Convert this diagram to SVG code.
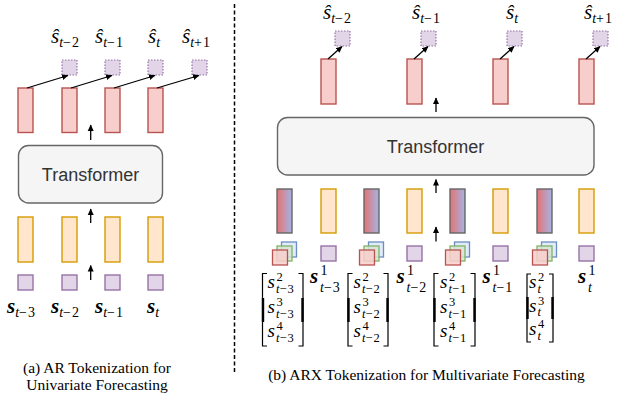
<svg xmlns="http://www.w3.org/2000/svg" width="624" height="398" viewBox="0 0 624 398">
<defs>
<marker id="ah" markerUnits="userSpaceOnUse" markerWidth="8" markerHeight="8" refX="6" refY="4" orient="auto">
<path d="M0,1 L6.5,4 L0,7 Z" fill="#000"/>
</marker>
<linearGradient id="grad" x1="0" y1="0" x2="1" y2="0">
<stop offset="0" stop-color="#e57373"/>
<stop offset="1" stop-color="#a4b4e4"/>
</linearGradient>
<style>
.pink{fill:#f8cecc;stroke:#b85450;stroke-width:1.4}
.org{fill:#ffe6cc;stroke:#d79b00;stroke-width:1.4}
.pur{fill:#e1d5e7;stroke:#9673a6;stroke-width:1.4}
.dot{fill:#e1d5e7;stroke:#9673a6;stroke-width:1.2;stroke-dasharray:1.5 1.5}
.gr{fill:url(#grad);stroke:#666666;stroke-width:1.4}
.sr{fill:#f8cecc;stroke:#b85450;stroke-width:1.3;fill-opacity:0.85}
.sg{fill:#d5e8d4;stroke:#82b366;stroke-width:1.3;fill-opacity:0.85}
.sbl{fill:#dae8fc;stroke:#6c8ebf;stroke-width:1.3;fill-opacity:0.85}
.tf{fill:#f5f5f5;stroke:#666666;stroke-width:1.4}
.tft{font-family:"Liberation Sans",Arial,sans-serif;font-size:18px;fill:#333333;text-anchor:middle}
.arr{stroke:#000;stroke-width:1.3;fill:none;marker-end:url(#ah)}
.m{font-family:"Liberation Serif","Times New Roman",serif;font-style:italic;font-size:21px;fill:#000}
.mb{font-family:"Liberation Serif","Times New Roman",serif;font-style:italic;font-weight:bold;font-size:21px;fill:#000}
.me{font-family:"Liberation Serif","Times New Roman",serif;font-style:italic;font-size:19px;fill:#000}
.sub{font-size:14px;font-weight:normal}
.sube{font-size:12.5px;font-weight:normal}
.up{font-style:normal;letter-spacing:1px}
.cap{font-family:"Liberation Serif","Times New Roman",serif;font-size:15.5px;fill:#000;text-anchor:middle}
.brk{stroke:#000;stroke-width:1.2;fill:none}
.brkm{stroke:#000;stroke-width:2.4;fill:none}
</style>
</defs>

<!-- divider -->
<line x1="234.5" y1="4" x2="234.5" y2="372" stroke="#000" stroke-width="1.5" stroke-dasharray="4 2.5"/>

<!-- ===== Left panel (a) ===== -->
<g id="a-outputs">
<rect class="dot" x="62" y="60" width="15" height="15"/>
<rect class="dot" x="105" y="60" width="15" height="15"/>
<rect class="dot" x="148" y="60" width="15" height="15"/>
<rect class="dot" x="192" y="60" width="15" height="15"/>
<text class="m" x="51" y="43">ŝ<tspan class="sub" dy="4">t<tspan class="up">−2</tspan></tspan></text>
<text class="m" x="95" y="43">ŝ<tspan class="sub" dy="4">t<tspan class="up">−1</tspan></tspan></text>
<text class="m" x="148" y="43">ŝ<tspan class="sub" dy="4">t</tspan></text>
<text class="m" x="182" y="43">ŝ<tspan class="sub" dy="4">t<tspan class="up">+1</tspan></tspan></text>
</g>
<g id="a-hidden">
<rect class="pink" x="18" y="88" width="15" height="44.5"/>
<rect class="pink" x="62" y="88" width="15" height="44.5"/>
<rect class="pink" x="105" y="88" width="15" height="44.5"/>
<rect class="pink" x="148" y="88" width="15" height="44.5"/>
</g>
<g id="a-transformer">
<rect class="tf" x="18.5" y="145.5" width="144" height="57.5" rx="10"/>
<text class="tft" x="90.5" y="180.5">Transformer</text>
</g>
<g id="a-tokens">
<rect class="org" x="18" y="217" width="15" height="45"/>
<rect class="org" x="62" y="217" width="15" height="45"/>
<rect class="org" x="105" y="217" width="15" height="45"/>
<rect class="org" x="148" y="217" width="15" height="45"/>
</g>
<g id="a-inputs">
<rect class="pur" x="18" y="275" width="15" height="15"/>
<rect class="pur" x="62" y="275" width="15" height="15"/>
<rect class="pur" x="105" y="275" width="15" height="15"/>
<rect class="pur" x="148" y="275" width="15" height="15"/>
<text class="mb" x="7" y="313">s<tspan class="sub" dy="4">t<tspan class="up">−3</tspan></tspan></text>
<text class="mb" x="51" y="313">s<tspan class="sub" dy="4">t<tspan class="up">−2</tspan></tspan></text>
<text class="mb" x="95" y="313">s<tspan class="sub" dy="4">t<tspan class="up">−1</tspan></tspan></text>
<text class="mb" x="147" y="313">s<tspan class="sub" dy="4">t</tspan></text>
</g>
<g id="a-connectors">
<line class="arr" x1="27" y1="88" x2="68" y2="75.5"/>
<line class="arr" x1="71" y1="88" x2="112" y2="75.5"/>
<line class="arr" x1="114" y1="88" x2="155" y2="75.5"/>
<line class="arr" x1="157" y1="88" x2="199" y2="75.5"/>
<line class="arr" x1="90.7" y1="140" x2="90.7" y2="125"/>
<line class="arr" x1="90.7" y1="223" x2="90.7" y2="209"/>
<line class="arr" x1="90.7" y1="280" x2="90.7" y2="265.5"/>
</g>
<g id="a-caption">
<text class="cap" x="97" y="373">(a) AR Tokenization for</text>
<text class="cap" x="97" y="390">Univariate Forecasting</text>
</g>

<!-- ===== Right panel (b) ===== -->
<g id="b-outputs">
<rect class="dot" x="335" y="31" width="15" height="15"/>
<rect class="dot" x="421" y="31" width="15" height="15"/>
<rect class="dot" x="507" y="31" width="15" height="15"/>
<rect class="dot" x="593" y="31" width="15" height="15"/>
<text class="m" x="323" y="19">ŝ<tspan class="sub" dy="4">t<tspan class="up">−2</tspan></tspan></text>
<text class="m" x="412" y="19">ŝ<tspan class="sub" dy="4">t<tspan class="up">−1</tspan></tspan></text>
<text class="m" x="506" y="19">ŝ<tspan class="sub" dy="4">t</tspan></text>
<text class="m" x="584" y="19">ŝ<tspan class="sub" dy="4">t<tspan class="up">+1</tspan></tspan></text>
</g>
<g id="b-hidden">
<rect class="pink" x="321" y="59" width="15" height="45"/>
<rect class="pink" x="407" y="59" width="15" height="45"/>
<rect class="pink" x="493" y="59" width="15" height="45"/>
<rect class="pink" x="579" y="59" width="15" height="45"/>
</g>
<g id="b-transformer">
<rect class="tf" x="277.5" y="117.5" width="316.5" height="57.5" rx="10"/>
<text class="tft" x="435.5" y="152.5">Transformer</text>
</g>
<g id="b-tokens">
<rect class="gr" x="277" y="189" width="15" height="44"/>
<rect class="org" x="321" y="189" width="15" height="44"/>
<rect class="gr" x="364" y="189" width="15" height="44"/>
<rect class="org" x="407" y="189" width="15" height="44"/>
<rect class="gr" x="450" y="189" width="15" height="44"/>
<rect class="org" x="493" y="189" width="15" height="44"/>
<rect class="gr" x="537" y="189" width="15" height="44"/>
<rect class="org" x="579" y="189" width="15" height="44"/>
</g>
<g id="b-inputs">
<rect class="sbl" x="281.5" y="242" width="15" height="15"/>
<rect class="sg" x="277" y="246" width="15" height="15"/>
<rect class="sr" x="272.5" y="250" width="15" height="15"/>
<rect class="pur" x="321" y="246" width="15" height="15"/>
<rect class="sbl" x="368.5" y="242" width="15" height="15"/>
<rect class="sg" x="364" y="246" width="15" height="15"/>
<rect class="sr" x="359.5" y="250" width="15" height="15"/>
<rect class="pur" x="407" y="246" width="15" height="15"/>
<rect class="sbl" x="454.5" y="242" width="15" height="15"/>
<rect class="sg" x="450" y="246" width="15" height="15"/>
<rect class="sr" x="445.5" y="250" width="15" height="15"/>
<rect class="pur" x="493" y="246" width="15" height="15"/>
<rect class="sbl" x="541.5" y="242" width="15" height="15"/>
<rect class="sg" x="537" y="246" width="15" height="15"/>
<rect class="sr" x="532.5" y="250" width="15" height="15"/>
<rect class="pur" x="579" y="246" width="15" height="15"/>
</g>
<g id="b-matrices">
<!-- M1 -->
<path class="brk" d="M267,273.5 H262.5 V346 H267 M298.5,273.5 H303 V346 H298.5"/>
<path class="brkm" d="M263,298 V322 M302.5,298 V322"/>
<text class="me" x="267.5" y="288">s<tspan class="sube" x="276.5" y="281" font-style="normal">2</tspan><tspan class="sube" x="276" y="292.5">t<tspan class="up">−3</tspan></tspan></text>
<text class="me" x="267.5" y="313">s<tspan class="sube" x="276.5" y="306" font-style="normal">3</tspan><tspan class="sube" x="276" y="317.5">t<tspan class="up">−3</tspan></tspan></text>
<text class="me" x="267.5" y="337">s<tspan class="sube" x="276.5" y="330" font-style="normal">4</tspan><tspan class="sube" x="276" y="341.5">t<tspan class="up">−3</tspan></tspan></text>
<!-- M2 -->
<path class="brk" d="M352.5,273.5 H348 V346 H352.5 M383.5,273.5 H388 V346 H383.5"/>
<path class="brkm" d="M348.5,298 V322 M387.5,298 V322"/>
<text class="me" x="353.5" y="288">s<tspan class="sube" x="362.5" y="281" font-style="normal">2</tspan><tspan class="sube" x="362" y="292.5">t<tspan class="up">−2</tspan></tspan></text>
<text class="me" x="353.5" y="313">s<tspan class="sube" x="362.5" y="306" font-style="normal">3</tspan><tspan class="sube" x="362" y="317.5">t<tspan class="up">−2</tspan></tspan></text>
<text class="me" x="353.5" y="337">s<tspan class="sube" x="362.5" y="330" font-style="normal">4</tspan><tspan class="sube" x="362" y="341.5">t<tspan class="up">−2</tspan></tspan></text>
<!-- M3 -->
<path class="brk" d="M438.5,273.5 H434 V346 H438.5 M470.5,273.5 H475 V346 H470.5"/>
<path class="brkm" d="M434.5,298 V322 M474.5,298 V322"/>
<text class="me" x="440" y="288">s<tspan class="sube" x="449" y="281" font-style="normal">2</tspan><tspan class="sube" x="448.5" y="292.5">t<tspan class="up">−1</tspan></tspan></text>
<text class="me" x="440" y="313">s<tspan class="sube" x="449" y="306" font-style="normal">3</tspan><tspan class="sube" x="448.5" y="317.5">t<tspan class="up">−1</tspan></tspan></text>
<text class="me" x="440" y="337">s<tspan class="sube" x="449" y="330" font-style="normal">4</tspan><tspan class="sube" x="448.5" y="341.5">t<tspan class="up">−1</tspan></tspan></text>
<!-- M4 -->
<path class="brk" d="M531,274 H527 V342 H531 M549,274 H553 V342 H549"/>
<path class="brkm" d="M527.5,297 V319 M552.5,297 V319"/>
<text class="me" x="529" y="288">s<tspan class="sube" x="538" y="281" font-style="normal">2</tspan><tspan class="sube" x="537.5" y="292.5">t</tspan></text>
<text class="me" x="529" y="311.5">s<tspan class="sube" x="538" y="304.5" font-style="normal">3</tspan><tspan class="sube" x="537.5" y="316">t</tspan></text>
<text class="me" x="529" y="335">s<tspan class="sube" x="538" y="328" font-style="normal">4</tspan><tspan class="sube" x="537.5" y="339.5">t</tspan></text>
</g>
<g id="b-labels">
<text class="mb" x="310" y="283">s<tspan class="sub" x="320.5" y="274.5" font-style="normal">1</tspan><tspan class="sub" x="320" y="292">t<tspan class="up">−3</tspan></tspan></text>
<text class="mb" x="396.5" y="283">s<tspan class="sub" x="407" y="274.5" font-style="normal">1</tspan><tspan class="sub" x="406.5" y="292">t<tspan class="up">−2</tspan></tspan></text>
<text class="mb" x="482.5" y="283">s<tspan class="sub" x="493" y="274.5" font-style="normal">1</tspan><tspan class="sub" x="492.5" y="292">t<tspan class="up">−1</tspan></tspan></text>
<text class="mb" x="578" y="283">s<tspan class="sub" x="588.5" y="274.5" font-style="normal">1</tspan><tspan class="sub" x="588" y="292">t</tspan></text>
</g>
<g id="b-connectors">
<line class="arr" x1="328" y1="59" x2="342" y2="46.5"/>
<line class="arr" x1="414" y1="59" x2="428" y2="46.5"/>
<line class="arr" x1="500" y1="59" x2="514" y2="46.5"/>
<line class="arr" x1="586" y1="59" x2="600" y2="46.5"/>
<line class="arr" x1="436" y1="112" x2="436" y2="98"/>
<line class="arr" x1="436" y1="193" x2="436" y2="179.5"/>
<line class="arr" x1="436" y1="241.5" x2="436" y2="227"/>
</g>
<g id="b-caption">
<text class="cap" x="426.5" y="380">(b) ARX Tokenization for Multivariate Forecasting</text>
</g>
</svg>
